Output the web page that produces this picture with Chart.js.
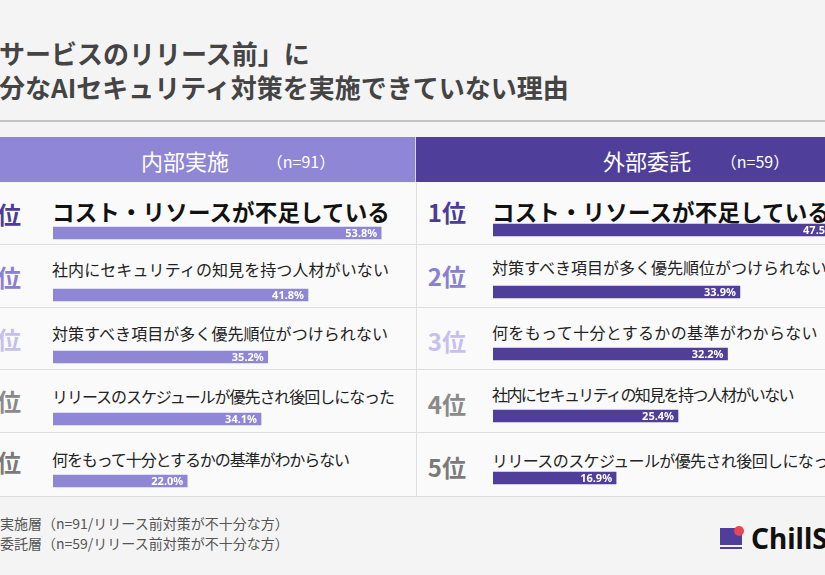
<!DOCTYPE html>
<html>
<head>
<meta charset="utf-8">
<script src="https://cdn.jsdelivr.net/npm/chart.js@4"></script>
<style>
    body { margin: 0; background: #f4f4f4; }
    #page {
        position: relative; width: 825px; height: 575px; overflow: hidden;
        background: #f4f4f4;
        font-family: "Noto Sans CJK JP", "Noto Sans", sans-serif;
    }
    .abs { position: absolute; white-space: nowrap; }
    canvas { position: absolute; z-index: 5; }
</style>
</head>
<body>
<div id="page">
    <canvas id="naibuChart" width="366" height="310" style="left:53px;top:202px"></canvas>
    <canvas id="gaibuChart" width="437" height="310" style="left:493px;top:199px"></canvas>
</div>
<script>
// データ
const titleLines = ["「サービスのリリース前」に", "十分なAIセキュリティ対策を実施できていない理由"];
const rankLabels = ["1位", "2位", "3位", "4位", "5位"];

const naibuTitle = "内部実施";
const naibuN = "（n=91）";
const naibuItems = [
    "コスト・リソースが不足している",
    "社内にセキュリティの知見を持つ人材がいない",
    "対策すべき項目が多く優先順位がつけられない",
    "リリースのスケジュールが優先され後回しになった",
    "何をもって十分とするかの基準がわからない"
];
const naibuValues = [53.8, 41.8, 35.2, 34.1, 22.0];

const gaibuTitle = "外部委託";
const gaibuN = "（n=59）";
const gaibuItems = [
    "コスト・リソースが不足している",
    "対策すべき項目が多く優先順位がつけられない",
    "何をもって十分とするかの基準がわからない",
    "社内にセキュリティの知見を持つ人材がいない",
    "リリースのスケジュールが優先され後回しになった"
];
const gaibuValues = [47.5, 33.9, 32.2, 25.4, 16.9];

const notes = ["※内部実施層（n=91/リリース前対策が不十分な方）", "※外部委託層（n=59/リリース前対策が不十分な方）"];

// 色
const rankColors = ['#4c3c98', '#8a80d2', '#c6c0ec', '#8a8a8a', '#7a7a7a'];
const lightPurple = '#8f86d6';
const darkPurple = '#4f3f9b';

const page = document.getElementById('page');

function addText(text, x, yCenter, style, align) {
    const el = document.createElement('div');
    el.className = 'abs';
    el.textContent = text;
    el.style.top = yCenter + 'px';
    if (align === 'right') {
        el.style.right = (825 - x) + 'px';
        el.style.transform = 'translateY(-50%)';
    } else if (align === 'center') {
        el.style.left = x + 'px';
        el.style.transform = 'translate(-50%,-50%)';
    } else {
        el.style.left = x + 'px';
        el.style.transform = 'translateY(-50%)';
    }
    Object.assign(el.style, style);
    page.appendChild(el);
    return el;
}

function addBox(x, y, w, h, style) {
    const el = document.createElement('div');
    el.className = 'abs';
    Object.assign(el.style, { left: x + 'px', top: y + 'px', width: w + 'px', height: h + 'px' }, style);
    page.appendChild(el);
    return el;
}

// 文字幅を合わせる
function fitWidth(el, width) {
    if (!width) return;
    const n = el.textContent.length;
    const diff = width - el.getBoundingClientRect().width;
    el.style.letterSpacing = (diff / n) + 'px';
}

// タイトル
titleLines.forEach((t, i) => {
    addText(t, -27, 53 + i * 34, { fontSize: '26px', fontWeight: '700', color: '#444', lineHeight: '1' });
});
addBox(0, 120, 825, 2, { background: '#c4c4c4' });

// ヘッダー
addBox(-10, 137, 426, 45, { background: lightPurple });
addBox(416, 137, 420, 45, { background: darkPurple });
addBox(415, 137, 1, 45, { background: '#d9d6f0' });
addText(naibuTitle, 185, 160, { fontSize: '22px', color: '#fff', fontWeight: '400', lineHeight: '1' }, 'center');
addText(naibuN, 301, 161, { fontSize: '16px', color: '#fff', lineHeight: '1' }, 'center');
addText(gaibuTitle, 647, 160, { fontSize: '22px', color: '#fff', fontWeight: '400', lineHeight: '1' }, 'center');
addText(gaibuN, 755, 161, { fontSize: '16px', color: '#fff', lineHeight: '1' }, 'center');

// 行の枠
const rowEdges = [183, 245, 308, 370, 433, 497];
for (let i = 0; i < 5; i++) {
    addBox(-10, rowEdges[i], 426, rowEdges[i + 1] - rowEdges[i] - 1, { background: '#fafafa', borderBottom: '1px solid #dedede' });
    addBox(416, rowEdges[i], 420, rowEdges[i + 1] - rowEdges[i] - 1, { background: '#fafafa', borderBottom: '1px solid #dedede', borderLeft: '1px solid #dedede' });
}

// 順位と項目
const naibuRankY = [214, 277, 339, 401, 462];
const naibuTextY = [211, 269, 333, 396, 459];
const naibuTextW = [338, 337, 336, 342, 297];
const gaibuRankY = [212, 276, 341, 404, 467];
const gaibuTextY = [211, 267, 332, 394, 460];
const gaibuTextW = [338, 0, 326, 301, 352];

rankLabels.forEach((r, i) => {
    addText(r, 21, naibuRankY[i], { fontSize: '24px', fontWeight: '700', color: rankColors[i], lineHeight: '1' }, 'right');
    addText(r, 466, gaibuRankY[i], { fontSize: '24px', fontWeight: '700', color: rankColors[i], lineHeight: '1' }, 'right');
});

naibuItems.forEach((t, i) => {
    const top = i === 0;
    const el = addText(t, 52, naibuTextY[i], {
        fontSize: top ? '22.5px' : '16px', fontWeight: top ? '700' : '400',
        color: top ? '#111' : '#222', lineHeight: '1'
    });
    fitWidth(el, naibuTextW[i]);
});
gaibuItems.forEach((t, i) => {
    const top = i === 0;
    const el = addText(t, 492, gaibuTextY[i], {
        fontSize: top ? '22.5px' : '16px', fontWeight: top ? '700' : '400',
        color: top ? '#111' : '#222', lineHeight: '1'
    });
    fitWidth(el, gaibuTextW[i]);
});

// 注記
notes.forEach((t, i) => {
    addText(t, -42, 523 + i * 20, { fontSize: '14px', color: '#555', lineHeight: '1' });
});

// ロゴ
addBox(720, 528, 22, 17, { background: darkPurple });
addBox(734, 526, 10, 10, { background: '#e8445a', borderRadius: '50%' });
addBox(720, 547, 22, 2, { background: darkPurple });
addText('ChillS', 751, 538, { fontSize: '28px', fontWeight: '700', color: '#111', fontFamily: '"Noto Sans", sans-serif', lineHeight: '1' });

// パーセント表示
const pctLabels = {
    id: 'pctLabels',
    afterDatasetsDraw(chart) {
        const ctx = chart.ctx;
        const meta = chart.getDatasetMeta(0);
        ctx.save();
        ctx.font = 'bold 11px "Noto Sans", sans-serif';
        ctx.fillStyle = '#fff';
        ctx.textAlign = 'right';
        ctx.textBaseline = 'middle';
        meta.data.forEach((bar, i) => {
            ctx.fillText(chart.data.datasets[0].data[i].toFixed(1) + '%', bar.x - 4, bar.y + 1);
        });
        ctx.restore();
    }
};

function makeChart(id, labels, values, color) {
    return new Chart(document.getElementById(id).getContext('2d'), {
        type: 'bar',
        data: {
            labels: labels,
            datasets: [{ data: values, backgroundColor: color, barThickness: 12, borderWidth: 0 }]
        },
        options: {
            indexAxis: 'y',
            responsive: false,
            animation: false,
            layout: { padding: 0 },
            scales: {
                x: { display: false, min: 0, max: 60 },
                y: { display: false }
            },
            plugins: { legend: { display: false }, tooltip: { enabled: false } }
        },
        plugins: [pctLabels]
    });
}

makeChart('naibuChart', naibuItems, naibuValues, lightPurple);
makeChart('gaibuChart', gaibuItems, gaibuValues, darkPurple);
</script>
</body>
</html>
